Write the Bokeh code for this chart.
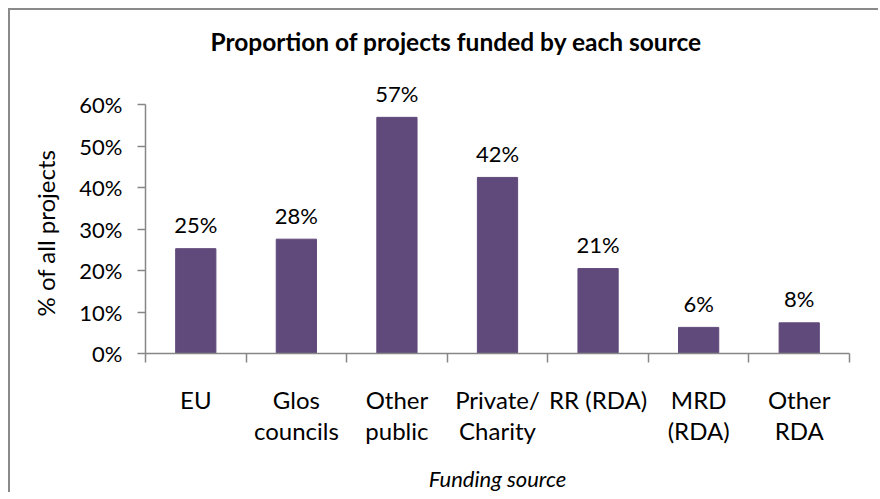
from bokeh.plotting import figure
from bokeh.models import Range1d, FixedTicker, NumeralTickFormatter, ColumnDataSource, Title
from bokeh.core.properties import value
from bokeh.embed import file_html
from bokeh.resources import INLINE

# ---- data ----
categories = ["EU", "Glos\ncouncils", "Other\npublic", "Private/\nCharity",
              "RR (RDA)", "MRD\n(RDA)", "Other\nRDA"]
shares = [0.253, 0.276, 0.570, 0.425, 0.205, 0.063, 0.074]
bar_labels = ["25%", "28%", "57%", "42%", "21%", "6%", "8%"]
y_ticks = [0.0, 0.1, 0.2, 0.3, 0.4, 0.5, 0.6]

FONT = "Lato"
PURPLE = "#604A7B"
GREY = "#868686"

n = len(categories)
centers = [i + 0.5 for i in range(n)]
src = ColumnDataSource(dict(x=centers, top=shares, label=bar_labels))

p = figure(width=870, height=484, output_backend="svg", toolbar_location=None,
           x_range=Range1d(0, n), y_range=Range1d(0, 0.7),
           min_border_left=135, min_border_right=31,
           min_border_top=53, min_border_bottom=139)
p.styles = {"margin-top": "8px", "margin-left": "8px",
            "border-top": "2px solid #8a8a8a", "border-left": "2px solid #8a8a8a"}
p.outline_line_color = None
p.grid.visible = False
p.background_fill_color = "white"
p.border_fill_color = "white"

p.title.text = "Proportion of projects funded by each source"
p.title.text_font = FONT
p.title.text_font_style = "bold"
p.title.text_font_size = "24.5px"
p.title.text_color = "black"
p.title.align = "left"
p.title.offset = 65
p.title.standoff = 16

p.vbar(x="x", top="top", width=0.4, source=src, fill_color=PURPLE, line_color=PURPLE)
p.text(x="x", y="top", text="label", source=src, y_offset=-24,
       text_align="center", text_baseline="middle",
       text_font=value(FONT), text_font_size="22px", text_color="black")

# y axis
ya = p.yaxis[0]
ya.ticker = FixedTicker(ticks=y_ticks)
ya.formatter = NumeralTickFormatter(format="0%")
ya.bounds = (0, 0.6)
ya.axis_line_color = GREY
ya.axis_line_width = 1.5
ya.major_tick_line_color = GREY
ya.major_tick_line_width = 1.5
ya.major_tick_out = 8
ya.major_tick_in = 0
ya.minor_tick_line_color = None
ya.major_label_text_font = FONT
ya.major_label_text_font_size = "22px"
ya.major_label_text_color = "black"
ya.major_label_standoff = 15

# y axis title, aligned with the 0-60% span of the axis
ytitle = Title(text="% of all projects", align="left", offset=37, standoff=34,
               text_font=FONT, text_font_size="24px", text_font_style="normal",
               text_color="black")
p.add_layout(ytitle, "left")

# x axis
xa = p.xaxis[0]
xa.ticker = FixedTicker(ticks=centers, minor_ticks=list(range(n + 1)))
xa.major_label_overrides = {c: lab for c, lab in zip(centers, categories)}
xa.axis_line_color = GREY
xa.axis_line_width = 1.5
xa.major_tick_line_color = None
xa.major_tick_out = 0
xa.major_tick_in = 0
xa.minor_tick_line_color = GREY
xa.minor_tick_line_width = 1.5
xa.minor_tick_out = 9
xa.minor_tick_in = 0
xa.major_label_text_font = FONT
xa.major_label_text_font_size = "24px"
xa.major_label_text_color = "black"
xa.major_label_text_line_height = 1.08
xa.major_label_standoff = 22
xa.axis_label = "Funding source"
xa.axis_label_text_font = FONT
xa.axis_label_text_font_size = "22px"
xa.axis_label_text_font_style = "italic"
xa.axis_label_text_color = "black"
xa.axis_label_standoff = 17

open("out.html", "w").write(file_html(p, INLINE))
